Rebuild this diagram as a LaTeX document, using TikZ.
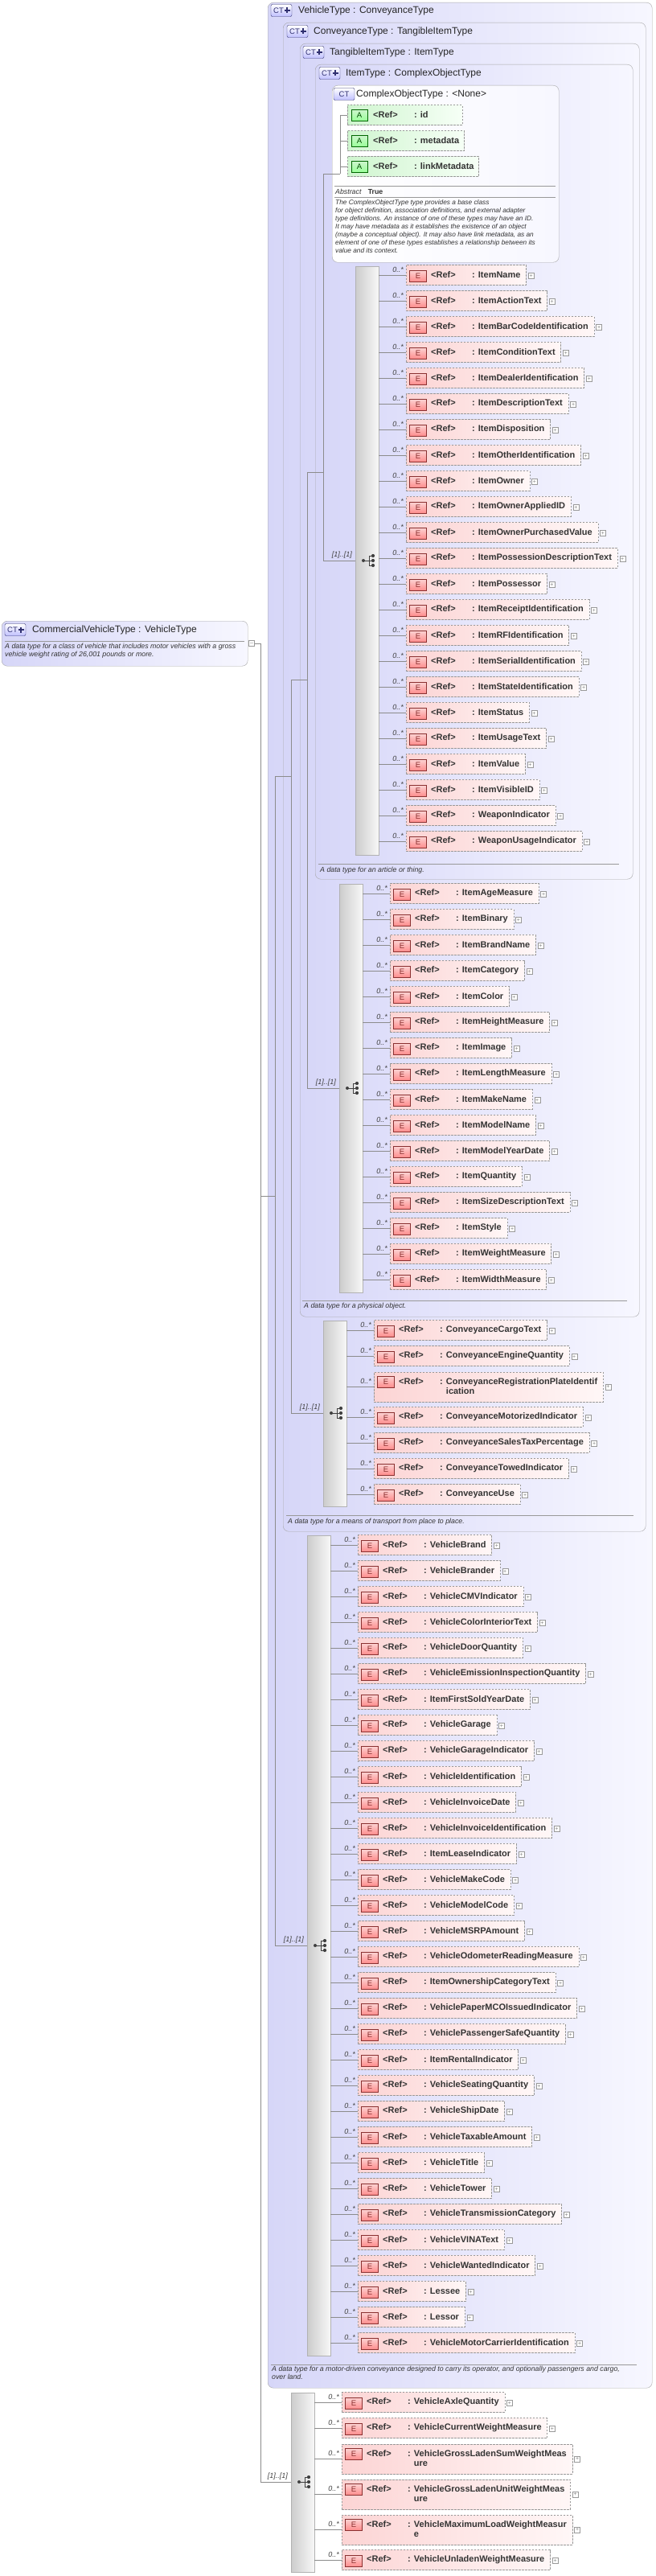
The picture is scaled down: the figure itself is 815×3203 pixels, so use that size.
\documentclass[tikz,border=0pt]{standalone}
\usepackage{fontspec}
\setmainfont{Liberation Sans}
\usetikzlibrary{calc}
\definecolor{boxl}{HTML}{D6D6F8}
\definecolor{boxr}{HTML}{F7F7FF}
\definecolor{pinkl}{HTML}{FCD4D4}
\definecolor{pinkr}{HTML}{FFF7F7}
\definecolor{greenl}{HTML}{CFF5CF}
\definecolor{greenr}{HTML}{F6FFF6}
\definecolor{ered}{HTML}{8A3030}
\definecolor{ctblue}{HTML}{303070}
\begin{document}
\begin{tikzpicture}[x=1pt,y=-1pt,
  tbox/.style={draw=black!35, rounded corners=7pt, left color=boxl, right color=boxr, inner sep=0, anchor=north west},
  cobox/.style={draw=black!35, rounded corners=7pt, left color=white, right color=boxr, inner sep=0, anchor=north west},
  seqbar/.style={draw=black!30, left color=black!20, right color=black!3, inner sep=0, anchor=north west},
  conn/.style={draw=black!45, line width=0.6pt},
  elem/.style={draw=black!40, dash pattern=on 2.5pt off 1.5pt, left color=pinkl, right color=pinkr, minimum height=25pt, inner xsep=0, inner ysep=0, anchor=west, font=\fontsize{11}{13}\selectfont\bfseries, text=black!80},
  attr/.style={draw=black!40, dash pattern=on 2.5pt off 1.5pt, left color=greenl, right color=greenr, minimum height=25pt, inner xsep=0, inner ysep=0, anchor=west, font=\fontsize{11}{13}\selectfont\bfseries, text=black!80},
  eicon/.style={draw=ered, top color=pinkl, bottom color=red!45, minimum width=21pt, minimum height=14pt, inner sep=0, font=\fontsize{9.5}{10}\selectfont, text=ered},
  aicon/.style={draw=green!40!black, top color=greenl, bottom color=green!40, minimum width=20pt, minimum height=14pt, inner sep=0, font=\fontsize{9.5}{10}\selectfont, text=green!30!black},
  cticon/.style={draw=ctblue, rounded corners=2pt, top color=white, bottom color=blue!25, minimum width=26pt, minimum height=15pt, inner sep=0, font=\fontsize{9.5}{10}\selectfont, text=ctblue},
  plusb/.style={draw=black!40, fill=white, minimum size=7pt, inner sep=0, font=\fontsize{7}{7}\selectfont, text=black!50},
  mult/.style={font=\fontsize{9}{10}\selectfont\itshape, text=black!75, inner sep=0},
  desc/.style={font=\fontsize{8.8}{10.2}\selectfont\itshape, text=black!80, anchor=west, inner sep=0},
  ttl/.style={font=\fontsize{12}{14}\selectfont, text=black!85, anchor=west, inner sep=0},
  sep/.style={draw=black!40, line width=0.6pt}
]
\useasboundingbox (0,0) rectangle (815,3203);

% ---------- macros ----------
\newcommand\myelt[4]{% bar, left x, yc, name
  \node[elem] (e-#4) at (#2,#3) {\hspace*{31pt}\makebox[51pt][l]{<Ref>}: #4\hspace*{7pt}};
  \node[eicon] (ei-#4) at ($(#2,#3)+(15,1)$) {E};
  \node[plusb] (ep-#4) at ($(e-#4.east)+(6,1)$) {+};
  \node[mult,anchor=east] (em-#4) at ($(#2,#3)+(-3,-7)$) {0..*};
  \draw[conn] (#1.east |- e-#4.west) -- (e-#4.west);
}
\newcommand\myeltt[6]{% bar, left x, ytop, line1, line2, id
  \node[elem, anchor=north west, minimum height=37pt] (e-#6) at (#2,#3) {\hspace*{31pt}\makebox[51pt][l]{<Ref>}\begin{tabular}[t]{@{}l@{}}: #4\\[-1pt]\phantom{: }#5\end{tabular}\hspace*{7pt}};
  \node[eicon] (ei-#6) at ($(#2,#3)+(15,12)$) {E};
  \node[plusb] (ep-#6) at ($(e-#6.east)+(6,0)$) {+};
  \node[mult,anchor=east] (em-#6) at ($(e-#6.west)+(-3,-7)$) {0..*};
  \draw[conn] (#1.east |- e-#6.west) -- (e-#6.west);
}
\newcommand\myct[3]{% name, x, y
  \node[cticon] (#1) at (#2,#3) {\hspace*{-7pt}CT};
  \fill[ctblue] ($(#1.center)+(6,-3.5)$) rectangle ($(#1.center)+(8,3.5)$);
  \fill[ctblue] ($(#1.center)+(3.5,-1)$) rectangle ($(#1.center)+(10.5,1)$);
}
\newcommand\myseqicon[3]{% name, x, y
  \coordinate (#1) at (#2,#3);
  \fill[black!75] (#2,#3) circle (2pt);
  \draw[black!75, line width=0.8pt] (#2,#3) -- ++(7,0) (#2+7,#3-6) -- (#2+7,#3+6)
     (#2+7,#3-6) -- ++(5,0) (#2+7,#3) -- ++(5,0) (#2+7,#3+6) -- ++(5,0);
  \fill[black!75] (#2+12,#3-6) circle (2.1pt) (#2+12,#3) circle (2.1pt) (#2+12,#3+6) circle (2.1pt);
}

% ---------- type boxes ----------
\node[tbox, minimum width=478pt, minimum height=2966pt] (vt) at (333,3) {};
\myct{vti}{350}{13}
\node[ttl] (vtt) at (371,13) {VehicleType : ConveyanceType};

\node[tbox, minimum width=451pt, minimum height=1876pt] (ct) at (352,28) {};
\myct{cti}{370}{39}
\node[ttl] (ctt) at (390,39) {ConveyanceType : TangibleItemType};

\node[tbox, minimum width=422pt, minimum height=1583pt] (tt) at (373,54) {};
\myct{tti}{390}{65}
\node[ttl] (ttt) at (410,65) {TangibleItemType : ItemType};

\node[tbox, minimum width=395pt, minimum height=1013pt] (it) at (392,80) {};
\myct{iti}{410}{91}
\node[ttl] (itt) at (430,91) {ItemType : ComplexObjectType};

\node[cobox, minimum width=282pt, minimum height=220pt] (cot) at (413,106) {};
\node[cticon] (coti) at (428,117) {CT};
\node[ttl] (cott) at (443,117) {ComplexObjectType : <None>};

% attributes
\foreach \n/\yy/\pad in {id/143/42, metadata/175/6, linkMetadata/207/6}{
  \node[attr] (a-\n) at (432,\yy) {\hspace*{32pt}\makebox[51pt][l]{<Ref>}: \n\hspace*{\pad pt}};
  \node[aicon] (ai-\n) at (447,\yy) {A};
  \draw[conn] (423,\yy) -- (a-\n.west);
}
\draw[conn] (423,143) -- (423,216);
\draw[sep] (416,231) -- (691,231);
\node[desc, font=\fontsize{8.8}{10}\selectfont] (abs) at (417,238) {\textit{Abstract}\hspace{8pt}\upshape\bfseries True};
\draw[sep] (416,245) -- (691,245);
\node[desc, anchor=north west, align=left, font=\fontsize{8.3}{10}\selectfont\itshape] (cotd) at (417,248) {The ComplexObjectType type provides a base class\\for object definition, association definitions, and external adapter\\type definitions. An instance of one of these types may have an ID.\\It may have metadata as it establishes the existence of an object\\(maybe a conceptual object). It may also have link metadata, as an\\element of one of these types establishes a relationship between its\\value and its context.};

% descriptions of type boxes
\draw[sep] (396,1074) -- (770,1074);
\node[desc] (itd) at (398,1082) {A data type for an article or thing.};
\draw[sep] (376,1617) -- (780,1617);
\node[desc] (ttd) at (378,1624) {A data type for a physical object.};
\draw[sep] (356,1884) -- (788,1884);
\node[desc] (ctd) at (358,1892) {A data type for a means of transport from place to place.};
\draw[sep] (337,2940) -- (792,2940);
\node[desc, anchor=north west, align=left] (vtd) at (338,2942) {A data type for a motor-driven conveyance designed to carry its operator, and optionally passengers and cargo,\\over land.};

% commercial vehicle type
\node[tbox, minimum width=306pt, minimum height=56pt] (cv) at (2,772) {};
\myct{cvi}{19}{783}
\node[ttl] (cvt) at (40,783) {CommercialVehicleType : VehicleType};
\draw[sep] (6,797) -- (304,797);
\node[desc, anchor=north west, align=left] (cvd) at (6,800) {A data type for a class of vehicle that includes motor vehicles with a gross\\vehicle weight rating of 26,001 pounds or more.};
\node[draw=black!40, fill=white, minimum size=7pt, inner sep=0, font=\fontsize{7}{7}\selectfont, text=black!50] (cvm) at (313,800) {--};

% ---------- tree connectors ----------
\draw[conn] (cvm.east) -- (324,800) -- (324,3086);
\draw[conn] (324,1487) -- (342,1487);
\draw[conn] (342,965) -- (342,2419);
\draw[conn] (342,965) -- (362,965);
\draw[conn] (362,845) -- (362,1757);
\draw[conn] (362,845) -- (382,845);
\draw[conn] (382,587) -- (382,1353);
\draw[conn] (382,587) -- (402,587);
\draw[conn] (402,216) -- (402,697);
\draw[conn] (402,216) -- (423,216);

% ---------- sequence bars ----------
\node[seqbar, minimum width=29pt, minimum height=732pt] (sb1) at (442,331) {};
\node[seqbar, minimum width=29pt, minimum height=508pt] (sb2) at (422,1099) {};
\node[seqbar, minimum width=29pt, minimum height=231pt] (sb3) at (402,1642) {};
\node[seqbar, minimum width=29pt, minimum height=1020pt] (sb4) at (382,1909) {};
\node[seqbar, minimum width=29pt, minimum height=223pt] (sb5) at (362,2975) {};

\foreach \b/\x/\yy in {sb1/402/697, sb2/382/1353, sb3/362/1757, sb4/342/2419, sb5/324/3086}{
  \draw[conn] (\x,\yy) -- (\b.west |- 0,\yy);
  \node[mult, anchor=south east] at ($(\b.west |- 0,\yy)+(-4,-2)$) {[1]..[1]};
}
\myseqicon{si1}{452}{697}
\myseqicon{si2}{432}{1353}
\myseqicon{si3}{412}{1757}
\myseqicon{si4}{392}{2419}
\myseqicon{si5}{372}{3086}

% ---------- elements ----------
\foreach \n [count=\i from 0] in {ItemName,ItemActionText,ItemBarCodeIdentification,ItemConditionText,ItemDealerIdentification,ItemDescriptionText,ItemDisposition,ItemOtherIdentification,ItemOwner,ItemOwnerAppliedID,ItemOwnerPurchasedValue,ItemPossessionDescriptionText,ItemPossessor,ItemReceiptIdentification,ItemRFIdentification,ItemSerialIdentification,ItemStateIdentification,ItemStatus,ItemUsageText,ItemValue,ItemVisibleID,WeaponIndicator,WeaponUsageIndicator}{
  \pgfmathsetmacro\yy{342+32*\i}
  \myelt{sb1}{505}{\yy}{\n}
}
\foreach \n [count=\i from 0] in {ItemAgeMeasure,ItemBinary,ItemBrandName,ItemCategory,ItemColor,ItemHeightMeasure,ItemImage,ItemLengthMeasure,ItemMakeName,ItemModelName,ItemModelYearDate,ItemQuantity,ItemSizeDescriptionText,ItemStyle,ItemWeightMeasure,ItemWidthMeasure}{
  \pgfmathsetmacro\yy{1111+32*\i}
  \myelt{sb2}{485}{\yy}{\n}
}
\foreach \n/\yy in {ConveyanceCargoText/1654,ConveyanceEngineQuantity/1686,ConveyanceMotorizedIndicator/1762,ConveyanceSalesTaxPercentage/1794,ConveyanceTowedIndicator/1826,ConveyanceUse/1858}{
  \myelt{sb3}{465}{\yy}{\n}
}
\myeltt{sb3}{465}{1706}{ConveyanceRegistrationPlateIdentif}{ication}{ConveyanceRegistrationPlateIdentification}
\foreach \n [count=\i from 0] in {VehicleBrand,VehicleBrander,VehicleCMVIndicator,VehicleColorInteriorText,VehicleDoorQuantity,VehicleEmissionInspectionQuantity,ItemFirstSoldYearDate,VehicleGarage,VehicleGarageIndicator,VehicleIdentification,VehicleInvoiceDate,VehicleInvoiceIdentification,ItemLeaseIndicator,VehicleMakeCode,VehicleModelCode,VehicleMSRPAmount,VehicleOdometerReadingMeasure,ItemOwnershipCategoryText,VehiclePaperMCOIssuedIndicator,VehiclePassengerSafeQuantity,ItemRentalIndicator,VehicleSeatingQuantity,VehicleShipDate,VehicleTaxableAmount,VehicleTitle,VehicleTower,VehicleTransmissionCategory,VehicleVINAText,VehicleWantedIndicator,Lessee,Lessor,VehicleMotorCarrierIdentification}{
  \pgfmathsetmacro\yy{1921+32*\i}
  \myelt{sb4}{445}{\yy}{\n}
}
\myelt{sb5}{425}{2987}{VehicleAxleQuantity}
\myelt{sb5}{425}{3019}{VehicleCurrentWeightMeasure}
\myeltt{sb5}{425}{3039}{VehicleGrossLadenSumWeightMeas}{ure}{VehicleGrossLadenSumWeightMeasure}
\myeltt{sb5}{425}{3083}{VehicleGrossLadenUnitWeightMeas}{ure}{VehicleGrossLadenUnitWeightMeasure}
\myeltt{sb5}{425}{3127}{VehicleMaximumLoadWeightMeasur}{e}{VehicleMaximumLoadWeightMeasure}
\myelt{sb5}{425}{3183}{VehicleUnladenWeightMeasure}
\end{tikzpicture}
\end{document}
